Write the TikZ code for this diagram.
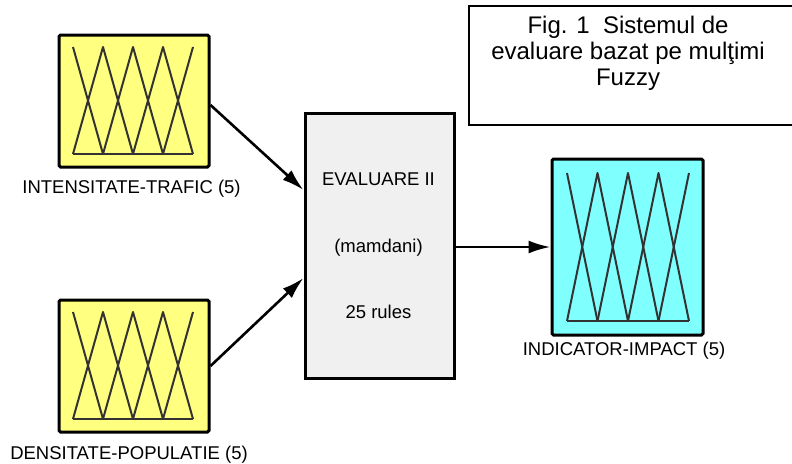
\documentclass[tikz,border=0pt]{standalone}
\usepackage{fontspec}
\setmainfont{Liberation Sans}
\usetikzlibrary{arrows.meta}
\definecolor{fisyellow}{HTML}{FFFF80}
\definecolor{fiscyan}{HTML}{80FFFF}
\definecolor{fisgray}{HTML}{F0F0F0}
% five triangular sets: first centre, spacing, top, base
\newcommand{\mfsets}[4]{%
  \draw[mf] (#1,#3) -- ({#1+#2},#4);
  \foreach \k in {1,2,3}
    \draw[mf] ({#1+(\k-1)*#2},#4) -- ({#1+\k*#2},#3) -- ({#1+(\k+1)*#2},#4);
  \draw[mf] ({#1+3*#2},#4) -- ({#1+4*#2},#3);
  \draw[mf] (#1,#4) -- ({#1+4*#2},#4);}

\begin{document}
\begin{tikzpicture}[x=1pt, y=-1pt,
    var/.style={draw, line width=3pt, rounded corners=1.5pt, minimum width=150pt, minimum height=132pt, inner sep=0pt},
    mf/.style={line width=2pt, line join=round, black!80},
    lbl/.style={font=\fontsize{18.5}{20}\selectfont, inner sep=0pt, anchor=base},
    arr/.style={line width=2.6pt, -{Latex[length=22pt,width=13pt]}}]
  \useasboundingbox (0,0) rectangle (792,463);
  \node[var, fill=fisyellow] (trafic) at (134,101) {}; \node[var, fill=fisyellow] (populatie) at (134,366) {};
  \node[var, fill=fiscyan, minimum width=151pt, minimum height=176pt] (impact) at (627.5,247) {};
  \node[draw, line width=3pt, fill=fisgray, minimum width=149pt, minimum height=265pt, inner sep=0pt] (eval) at (379.5,245.5) {};
  \mfsets{73}{30}{47}{154} \mfsets{73}{30}{312}{419} \mfsets{567}{30.5}{173}{321}
  \node[lbl] (trafictxt) at (131.5,193) {INTENSITATE-TRAFIC (5)};
  \node[lbl] (populatietxt) at (129,459) {DENSITATE-POPULATIE (5)};
  \node[lbl] (impacttxt) at (624,355) {INDICATOR-IMPACT (5)};
  \node[lbl] (evaltxt) at (378.5,185) {EVALUARE II}; \node[lbl] (mamdani) at (378.5,252) {(mamdani)}; \node[lbl] (rules) at (378.5,318) {25 rules};
  \draw[arr] ([yshift=-4pt]trafic.east) -- ([yshift=55.5pt]eval.west);
  \draw[arr] (populatie.east) -- ([yshift=-32.5pt]eval.west);
  \draw[arr] (impact.west -| eval.east) -- (impact.west);
  % caption box
  \node[draw, line width=2pt, minimum width=330pt, minimum height=119pt, anchor=north west, inner sep=0pt] (fig) at (468,5) {};
  \node[align=center, font=\fontsize{24}{26}\selectfont, anchor=north, inner sep=0pt] (figtxt) at (628,15.5) {Fig. 1\ \ Sistemul de\\evaluare bazat pe mulţimi\\Fuzzy};
\end{tikzpicture}
\end{document}
